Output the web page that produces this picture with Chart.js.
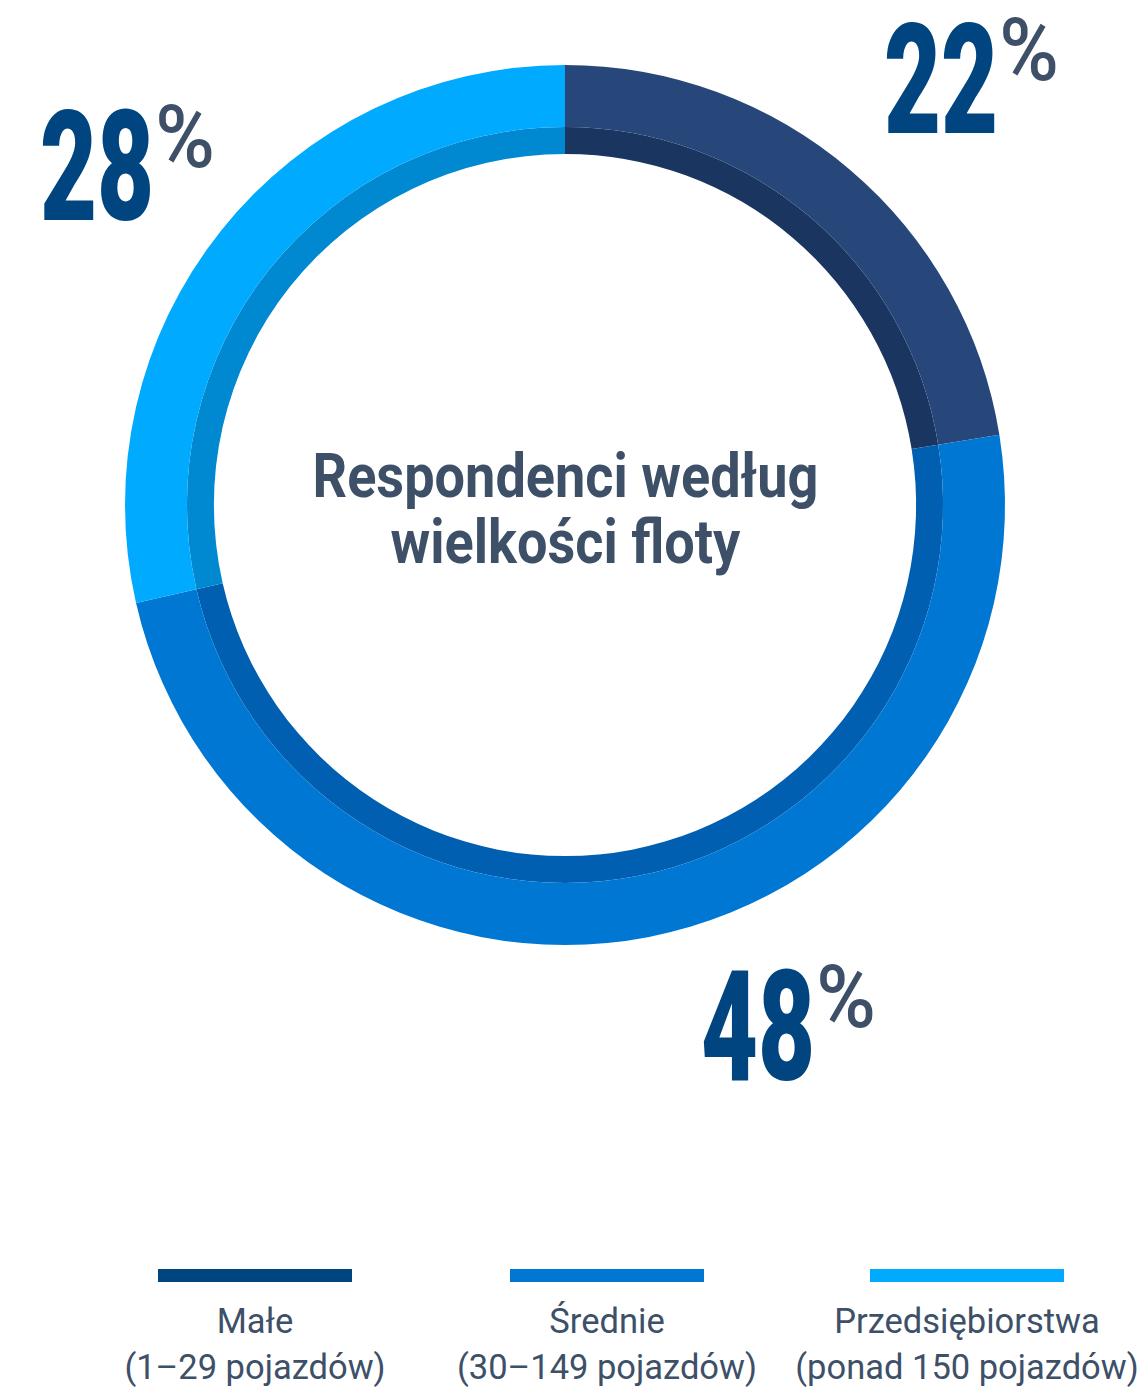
<!DOCTYPE html>
<html>
<head>
<meta charset="utf-8">
<script src="https://cdn.jsdelivr.net/npm/chart.js@4/dist/chart.umd.min.js"></script>
<style>
    html, body { margin: 0; padding: 0; background: #fff; }
    body { width: 1143px; height: 1389px; position: relative; overflow: hidden; font-family: Roboto, sans-serif; }
    #chart-wrap { position: absolute; left: 0; top: 0; width: 1143px; height: 1110px; }
    #title {
        position: absolute; left: 0; top: 443px; width: 1143px; text-align: center;
        font-weight: 700; font-size: 62px; line-height: 66px; color: #3d5068;
        transform: translateX(-6px) scaleX(0.872); transform-origin: 571px 0;
    }
    .legend-item { position: absolute; top: 1269px; width: 360px; text-align: center; color: #3d5068; font-size: 34.5px; line-height: 46px; }
    .legend-item .bar { width: 194px; height: 13px; margin: 0 auto 16px auto; }
</style>
</head>
<body>
<div id="chart-wrap"><canvas id="donut" width="1143" height="1110"></canvas></div>
<div id="title">Respondenci według<br>wielkości floty</div>
<div id="legend"></div>
<script>
// --- DATA ---
const categories = ['Małe', 'Średnie', 'Przedsiębiorstwa'];
const subLabels = ['(1–29 pojazdów)', '(30–149 pojazdów)', '(ponad 150 pojazdów)'];
const shares = [22, 48, 28];

// --- STYLE ---
const outerColors = ['#27477a', '#0077d3', '#00aaff'];
const innerColors = ['#1b3561', '#005fb0', '#0088d0'];
const legendColors = ['#00457f', '#0077d3', '#00aaff'];
const legendCenters = [255, 607, 967];
// number anchors (same order as shares): left edge and baseline of the big digits
const labelAnchors = [
    { x: 884, y: 133 },
    { x: 701, y: 1080 },
    { x: 40, y: 220 }
];

const percentLabels = {
    id: 'percentLabels',
    afterDraw(chart) {
        const ctx = chart.ctx;
        shares.forEach((v, i) => {
            const a = labelAnchors[i];
            ctx.save();
            ctx.fillStyle = '#00457f';
            ctx.font = '900 154px Roboto';
            ctx.textAlign = 'left';
            ctx.textBaseline = 'alphabetic';
            const txt = String(v);
            const w = ctx.measureText(txt).width * 0.64;
            ctx.translate(a.x, a.y);
            ctx.scale(0.64, 1);
            ctx.fillText(txt, 0, 0);
            ctx.restore();

            ctx.save();
            ctx.fillStyle = '#3d5068';
            ctx.font = '500 88px Roboto';
            ctx.textAlign = 'left';
            ctx.translate(a.x + w + 1, a.y - 53);
            ctx.scale(0.92, 1);
            ctx.fillText('%', 0, 0);
            ctx.restore();
        });
    }
};

const canvas = document.getElementById('donut');
new Chart(canvas, {
    type: 'doughnut',
    data: {
        labels: categories,
        datasets: [
            { data: shares, backgroundColor: outerColors, borderWidth: 0, weight: 62 },
            { data: shares, backgroundColor: innerColors, borderWidth: 0, weight: 27 }
        ]
    },
    options: {
        responsive: false,
        animation: false,
        cutout: '79.8%',
        layout: { padding: { left: 125, right: 138, top: 65, bottom: 165 } },
        elements: { arc: { offset: 0, hoverOffset: 0, borderWidth: 0 } },
        plugins: { legend: { display: false }, tooltip: { enabled: false } },
        events: []
    },
    plugins: [percentLabels]
});

// --- LEGEND ---
const legend = document.getElementById('legend');
categories.forEach((c, i) => {
    const item = document.createElement('div');
    item.className = 'legend-item';
    item.style.left = (legendCenters[i] - 180) + 'px';
    item.innerHTML = `<div class="bar" style="background:${legendColors[i]}"></div><div>${c}</div><div>${subLabels[i]}</div>`;
    legend.appendChild(item);
});
</script>
</body>
</html>
